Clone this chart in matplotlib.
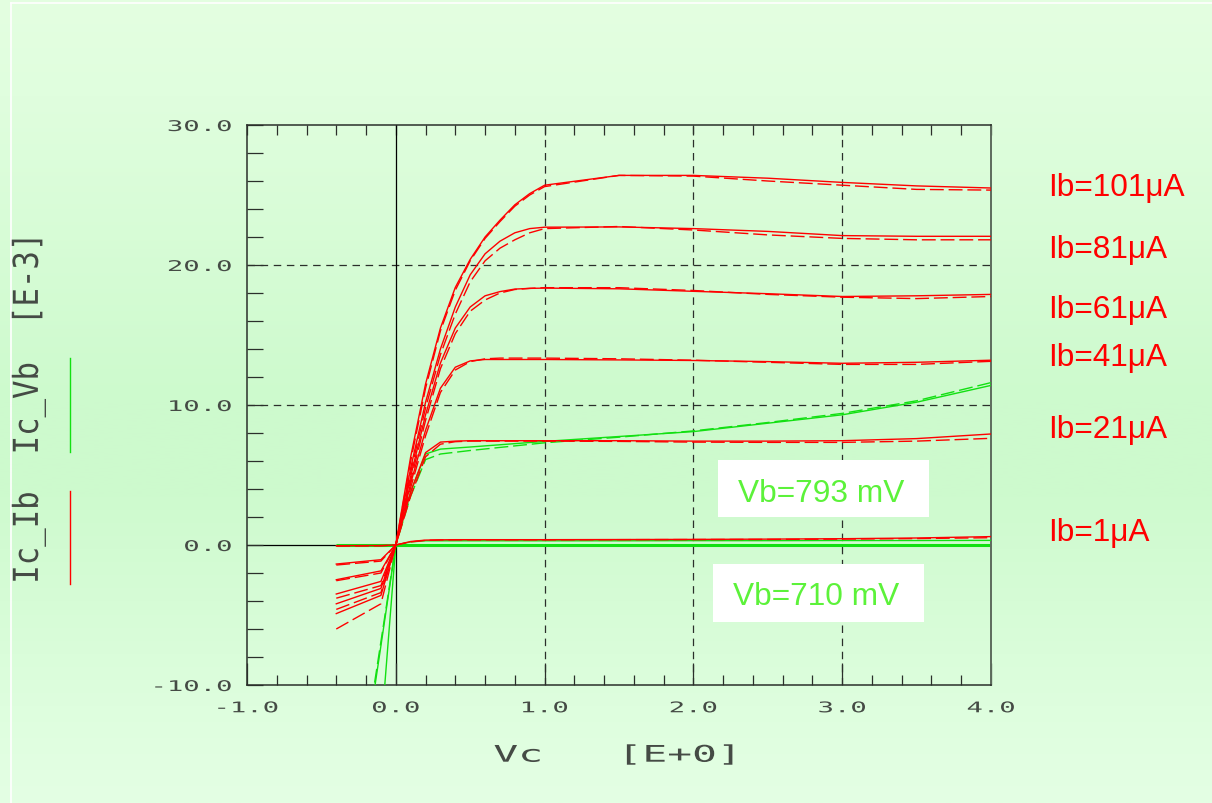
import numpy as np
import matplotlib
matplotlib.use("Agg")
import matplotlib.pyplot as plt
from matplotlib.patheffects import AbstractPathEffect
from matplotlib.transforms import Affine2D
from matplotlib.path import Path
from matplotlib.patches import Rectangle
from matplotlib.lines import Line2D
from matplotlib.ticker import MultipleLocator

plt.rcParams["axes.unicode_minus"] = False

# ---------------------------------------------------------------------------
# Ic(Vc) family at constant base current, mA (simulated = solid, measured = dashed)
vc = [-0.4, -0.1, 0.0, 0.1, 0.2, 0.3, 0.4, 0.5, 0.6, 0.7, 0.8, 0.9,
      1.0, 1.5, 2.0, 2.5, 3.0, 3.5, 4.0]

ib_labels = ["Ib=101μA", "Ib=81μA", "Ib=61μA", "Ib=41μA", "Ib=21μA", "Ib=1μA"]

ic_ib101_sim = [-4.9, -3.6, 0, 6.3, 11.5, 15.5, 18.4, 20.4, 22.0, 23.2, 24.3, 25.1,
                25.7, 26.4, 26.4, 26.2, 25.9, 25.65, 25.5]
ic_ib101_meas = [-6.0, -4.2, 0, 6.0, 11.2, 15.3, 18.2, 20.3, 21.9, 23.1, 24.2, 25.0,
                 25.6, 26.4, 26.35, 26.0, 25.7, 25.4, 25.35]
ic_ib81_sim = [-4.2, -3.1, 0, 5.5, 10.2, 14.0, 17.0, 19.3, 20.8, 21.7, 22.3, 22.6,
               22.7, 22.72, 22.6, 22.4, 22.1, 22.05, 22.05]
ic_ib81_meas = [-4.6, -3.4, 0, 5.2, 9.8, 13.6, 16.5, 18.8, 20.3, 21.2, 21.8, 22.3,
                22.6, 22.75, 22.5, 22.15, 21.9, 21.8, 21.8]
ic_ib61_sim = [-3.5, -2.6, 0, 4.9, 9.3, 13.0, 15.5, 17.0, 17.8, 18.1, 18.28, 18.33,
               18.35, 18.3, 18.12, 17.95, 17.75, 17.8, 17.9]
ic_ib61_meas = [-3.8, -2.9, 0, 4.6, 8.9, 12.6, 15.1, 16.7, 17.5, 18.0, 18.25, 18.33,
                18.38, 18.38, 18.18, 17.9, 17.7, 17.6, 17.75]
ic_ib41_sim = [-2.48, -1.85, 0, 4.4, 8.2, 11.2, 12.7, 13.15, 13.25, 13.25, 13.25, 13.25,
               13.25, 13.22, 13.18, 13.1, 12.98, 13.05, 13.2]
ic_ib41_meas = [-2.55, -2.0, 0, 4.1, 7.8, 10.9, 12.5, 13.1, 13.3, 13.35, 13.35, 13.35,
                13.35, 13.3, 13.2, 13.05, 12.9, 12.9, 13.12]
ic_ib21_sim = [-1.36, -1.05, 0, 3.8, 6.6, 7.35, 7.42, 7.45, 7.45, 7.45, 7.45, 7.45,
               7.45, 7.45, 7.42, 7.42, 7.45, 7.6, 7.93]
ic_ib21_meas = [-1.43, -1.15, 0, 3.5, 6.3, 7.2, 7.38, 7.42, 7.42, 7.42, 7.42, 7.42,
                7.42, 7.4, 7.35, 7.33, 7.33, 7.42, 7.62]
ic_ib1_sim = [-0.05, -0.04, 0, 0.25, 0.35, 0.37, 0.38, 0.38, 0.38, 0.38, 0.38, 0.38,
              0.38, 0.39, 0.40, 0.42, 0.45, 0.50, 0.60]
ic_ib1_meas = [-0.08, -0.06, 0, 0.22, 0.33, 0.36, 0.37, 0.37, 0.37, 0.37, 0.37, 0.37,
               0.37, 0.38, 0.39, 0.40, 0.42, 0.46, 0.52]

# Ic(Vc) at constant base voltage, mA
vc_vb = [-0.2, -0.1, 0.0, 0.1, 0.2, 0.3, 0.5, 1.0, 1.5, 2.0, 2.5, 3.0, 3.5, 4.0]
vb_labels = ["Vb=793 mV", "Vb=710 mV"]
ic_vb793_sim = [-14.3, -7.2, 0, 3.8, 6.5, 6.85, 7.0, 7.4, 7.75, 8.1, 8.7, 9.3, 10.2, 11.4]
ic_vb793_meas = [-13.8, -6.9, 0, 3.5, 6.1, 6.5, 6.75, 7.3, 7.7, 8.15, 8.75, 9.4, 10.3, 11.6]
ic_vb710_sim = [-27.0, -13.5, 0, 0.22, 0.30, 0.30, 0.30, 0.30, 0.30, 0.31, 0.31, 0.32, 0.32, 0.33]
vc_base = [-0.4, 4.0]
ic_base = [0.0, 0.0]

# Axis ticks and labels
x_major = [-1, 0, 1, 2, 3, 4]
x_ticklabels = ["-1.0", "0.0", "1.0", "2.0", "3.0", "4.0"]
y_major = [-10, 0, 10, 20, 30]
y_ticklabels = ["-10.0", "0.0", "10.0", "20.0", "30.0"]
x_grid = [1, 2, 3]
y_grid = [10, 20]

RED = "#ff0000"
GREEN = "#12e012"
INK = "#2b2f2b"
PEN = "#454b45"
MONO = "DejaVu Sans Mono"
SANS = "Liberation Sans"

W, H = 1212, 804


class StretchX(AbstractPathEffect):
    """Widen glyph outlines along the page x direction (pen-plotter lettering)."""

    def __init__(self, sx, anchor=0.5):
        super().__init__()
        self.sx = sx
        self.anchor = anchor

    def draw_path(self, renderer, gc, tpath, affine, rgbFace=None):
        verts = tpath.vertices
        if tpath.codes is not None:
            verts = verts[tpath.codes != Path.CLOSEPOLY]
        if len(verts):
            pts = affine.transform(verts)
            x0, x1 = pts[:, 0].min(), pts[:, 0].max()
            pivot = x0 + self.anchor * (x1 - x0)
        else:
            pivot = 0.0
        t = affine + Affine2D().translate(-pivot, 0).scale(self.sx, 1).translate(pivot, 0)
        renderer.draw_path(gc, tpath, t, rgbFace)


def fx(px):
    return px / W


def fy(py):
    return 1 - py / H


fig = plt.figure(figsize=(W / 100, H / 100), dpi=100)

# Soft vertical green gradient behind everything
bg = fig.add_axes([0, 0, 1, 1], zorder=-5)
stops = np.array([0.0, 0.12, 0.5, 0.62, 0.88, 1.0])
cols = np.array([[228, 255, 225], [224, 254, 222], [205, 250, 205],
                 [206, 250, 206], [222, 254, 222], [228, 255, 228]]) / 255.0
t = np.linspace(0, 1, 400)
grad = np.stack([np.interp(t, stops, cols[:, k]) for k in range(3)], axis=-1)
bg.imshow(grad[:, None, :], aspect="auto", extent=[0, 1, 1, 0], interpolation="bilinear")
bg.set_xlim(0, 1)
bg.set_ylim(1, 0)
bg.axis("off")

# Thin white frame lines
fig.add_artist(Line2D([fx(10.5), fx(10.5)], [fy(3.5), fy(804)], color="white", lw=1.2))
fig.add_artist(Line2D([fx(10.5), fx(1212)], [fy(3.5), fy(3.5)], color="white", lw=1.2))

ax = fig.add_axes([fx(247), fy(686), (991 - 247) / W, (686 - 126) / H], zorder=1)
ax.patch.set_alpha(0)
ax.set_xlim(-1, 4)
ax.set_ylim(-10, 30)

for side in ["left", "bottom", "top"]:
    ax.spines[side].set_color(INK)
    ax.spines[side].set_linewidth(1.1)
ax.spines["right"].set_color("#5d6b5d")
ax.spines["right"].set_linewidth(1.4)

ax.set_xticks(x_major, x_ticklabels)
ax.set_yticks(y_major, y_ticklabels)
ax.xaxis.set_minor_locator(MultipleLocator(0.2))
ax.yaxis.set_minor_locator(MultipleLocator(2))
ax.tick_params(axis="x", which="major", direction="in", length=15.8, width=0.9,
               color=INK, pad=11, labelsize=10.6, labelcolor=PEN, top=False)
ax.tick_params(axis="x", which="minor", direction="in", length=7.2, width=0.9,
               color=INK, top=False)
ax.tick_params(axis="y", which="both", direction="in", length=11.5, width=0.9,
               color=INK, pad=11, labelsize=10.6, labelcolor=PEN, right=False)
for lbl in ax.get_xticklabels():
    lbl.set_family(MONO)
    lbl.set_path_effects([StretchX(1.85, 0.5)])
for lbl in ax.get_yticklabels():
    lbl.set_family(MONO)
    lbl.set_path_effects([StretchX(1.85, 1.0)])

top = ax.secondary_xaxis("top")
top.xaxis.set_major_locator(MultipleLocator(0.2))
top.tick_params(direction="in", length=7.2, width=0.9, color=INK, labeltop=False)
top.spines["top"].set_visible(False)

# Grid: dashed at the major divisions, solid through the origin
for gx in x_grid:
    ax.axvline(gx, color=INK, lw=0.9, ls=(0, (6, 4.5)), zorder=1)
for gy in y_grid:
    ax.axhline(gy, color=INK, lw=0.9, ls=(0, (6, 4.5)), zorder=1)
ax.axvline(0, color="black", lw=0.9, zorder=1)
ax.axhline(0, color="black", lw=0.9, zorder=1)

DASH = (0, (10, 3.5))
ib_sim = [ic_ib101_sim, ic_ib81_sim, ic_ib61_sim, ic_ib41_sim, ic_ib21_sim, ic_ib1_sim]
ib_meas = [ic_ib101_meas, ic_ib81_meas, ic_ib61_meas, ic_ib41_meas, ic_ib21_meas, ic_ib1_meas]

ax.plot(vc_base, ic_base, color=GREEN, lw=2.2, zorder=2, solid_capstyle="butt")
ax.plot(vc_vb, ic_vb710_sim, color=GREEN, lw=1.0, zorder=3)
ax.plot(vc_vb, ic_vb793_sim, color=GREEN, lw=1.0, zorder=3)
ax.plot(vc_vb, ic_vb793_meas, color=GREEN, lw=1.0, ls=DASH, zorder=3)
for sim, meas in zip(ib_sim, ib_meas):
    ax.plot(vc, sim, color=RED, lw=1.0, zorder=4)
    ax.plot(vc, meas, color=RED, lw=1.0, ls=DASH, zorder=4)

# Axis titles in plotter lettering
fig.text(fx(615.5), fy(762.7), "Vc   [E+0]", ha="center", va="baseline",
         family=MONO, size=16.5, color=PEN, path_effects=[StretchX(1.8, 0.5)])
fig.text(fx(29), fy(409), "Ic_Ib  Ic_Vb  [E-3]", ha="center", va="center",
         rotation=90, family=MONO, size=22.1, color=PEN,
         path_effects=[StretchX(1.12, 0.5)])
fig.add_artist(Line2D([fx(70.3), fx(70.3)], [fy(492), fy(585)], color=RED, lw=1.0))
fig.add_artist(Line2D([fx(70.3), fx(70.3)], [fy(359), fy(453)], color=GREEN, lw=1.0))

# Base-current labels on the right
ib_baselines = [196, 258, 318, 365.7, 438, 541.5]
for lab, by in zip(ib_labels, ib_baselines):
    fig.text(fx(1048), fy(by), lab, ha="left", va="baseline", family=SANS,
             size=22.8, color=RED)

# Base-voltage labels in white boxes
vb_boxes = [(718, 461, 928.6, 518.3), (712.7, 565, 924, 622.7)]
vb_text = [(737.7, 501.7), (732.7, 605)]
for lab, (x0, y0, x1, y1), (tx, ty) in zip(vb_labels, vb_boxes, vb_text):
    fig.add_artist(Rectangle((fx(x0), fy(y1)), fx(x1) - fx(x0), fy(y0) - fy(y1),
                             transform=fig.transFigure, facecolor="white",
                             edgecolor="none", zorder=5))
    fig.text(fx(tx), fy(ty), lab, ha="left", va="baseline", family=SANS,
             size=22.8, color="#5cf23a", zorder=6)

fig.savefig("out.png", dpi=100)
